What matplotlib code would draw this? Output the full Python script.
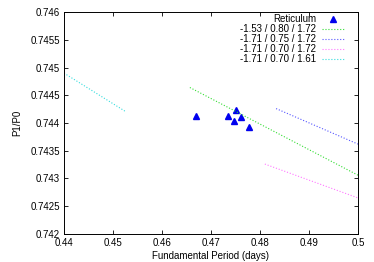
import matplotlib
matplotlib.use('Agg')
import matplotlib.pyplot as plt

plt.rcParams['font.family'] = ['Liberation Sans', 'DejaVu Sans']
plt.rcParams['font.size'] = 7

# Reticulum observations
ret_period = [0.4669, 0.4734, 0.4751, 0.4761, 0.4747, 0.4777]
ret_ratio = [0.74412, 0.74412, 0.74423, 0.74411, 0.74403, 0.74393]

# model sequences: (label, colour, periods, ratios)
labels = ['-1.53 / 0.80 / 1.72', '-1.71 / 0.75 / 1.72',
          '-1.71 / 0.70 / 1.72', '-1.71 / 0.70 / 1.61']
colors = ['#33dd33', '#5555ff', '#ff77ff', '#33dddd']
periods = [[0.4657, 0.5], [0.4833, 0.5], [0.4810, 0.5], [0.44, 0.4527]]
ratios = [[0.74464, 0.74306], [0.74426, 0.74362], [0.74326, 0.74265], [0.74490, 0.74420]]

fig = plt.figure(figsize=(3.74, 2.62), dpi=100)
ax = fig.add_axes([0.171, 0.107, 0.786, 0.847])

ax.plot(ret_period, ret_ratio, '^', color='#0000ee', ms=4.5, label='Reticulum')
for lab, c, px, py in zip(labels, colors, periods, ratios):
    ax.plot(px, py, ':', color=c, lw=0.8, label=lab)

ax.set_xlim(0.44, 0.5)
ax.set_ylim(0.742, 0.746)
ax.set_xticks([0.44, 0.45, 0.46, 0.47, 0.48, 0.49, 0.5])
ax.set_xticklabels(['0.44', '0.45', '0.46', '0.47', '0.48', '0.49', '0.5'])
ax.set_yticks([0.742, 0.7425, 0.743, 0.7435, 0.744, 0.7445, 0.745, 0.7455, 0.746])
ax.set_yticklabels(['0.742', '0.7425', '0.743', '0.7435', '0.744', '0.7445', '0.745', '0.7455', '0.746'])
ax.tick_params(direction='in', top=True, right=True, length=3, width=0.6, pad=3)
for s in ax.spines.values():
    s.set_linewidth(0.7)

ax.set_xlabel('Fundamental Period (days)', labelpad=2)
ax.set_ylabel('P1/P0', labelpad=6)

ax.legend(loc='upper right', bbox_to_anchor=(0.973, 1.012), frameon=False,
          markerfirst=False, handlelength=2.4, labelspacing=0.0,
          borderaxespad=0.1, borderpad=0.4, handletextpad=0.6, fontsize=7)

fig.savefig('out.png', dpi=100)
